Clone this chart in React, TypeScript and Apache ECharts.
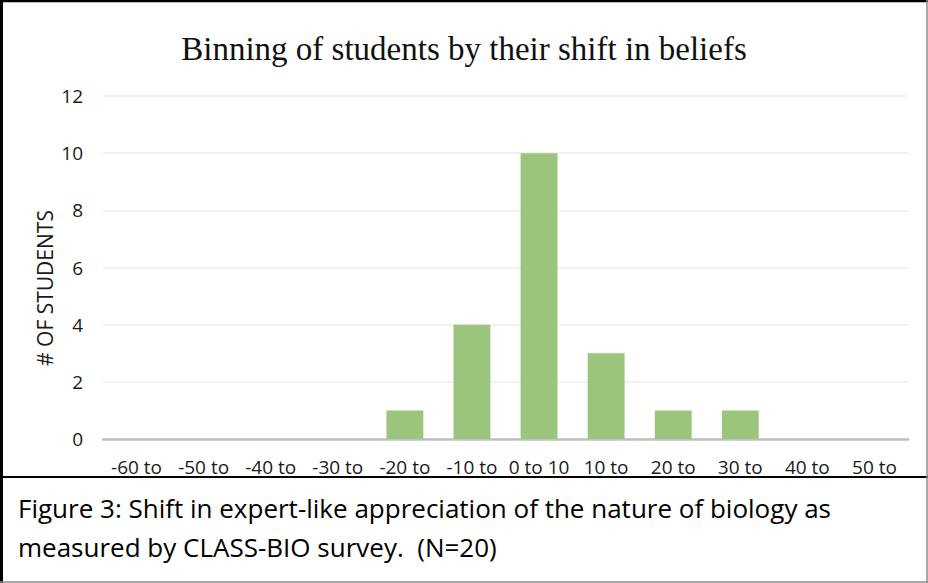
import React, { useEffect, useRef } from "react";
import * as echarts from "echarts";

const categories = [
  "-60 to -50", "-50 to -40", "-40 to -30", "-30 to -20", "-20 to -10", "-10 to 0",
  "0 to 10", "10 to 20", "20 to 30", "30 to 40", "40 to 50", "50 to 60",
];
const students = [0, 0, 0, 0, 1, 4, 10, 3, 1, 1, 0, 0];
const titleText = "Binning of students by their shift in beliefs";
const yAxisName = "# OF STUDENTS";
const captionLines = [
  "Figure 3: Shift in expert-like appreciation of the nature of biology as",
  "measured by CLASS-BIO survey.  (N=20)",
];

const W = 928;
const H = 583;
const LABEL_FONT = "'Open Sans', 'Noto Sans', sans-serif";

export default function App() {
  const ref = useRef<HTMLDivElement>(null);
  useEffect(() => {
    document.body.style.margin = "0";
    const chart = echarts.init(ref.current!, null, { renderer: "svg" });
    const Z = 100;
    chart.setOption({
      animation: false,
      backgroundColor: "#ffffff",
      title: {
        text: titleText,
        left: "center",
        top: 27,
        textStyle: {
          fontFamily: "'Liberation Serif', 'DejaVu Serif', serif",
          fontSize: 33,
          fontWeight: "normal",
          color: "#111",
        },
      },
      grid: { left: 103, right: 20, top: 96, bottom: H - 439, containLabel: false },
      xAxis: {
        type: "category",
        data: categories,
        axisLine: { show: true, lineStyle: { color: "#bfbfbf", width: 2.5 } },
        axisTick: { show: false },
        axisLabel: {
          interval: 0,
          margin: 16,
          fontSize: 19,
          lineHeight: 24,
          fontFamily: LABEL_FONT,
          color: "#1a1a1a",
          // the second line of wrapped labels is hidden by the caption box in the original
          formatter: (v: string) => (v.length > 7 ? v.replace(/ \S+$/, "") : v),
        },
      },
      yAxis: {
        type: "value",
        min: 0,
        max: 12,
        interval: 2,
        axisLine: { show: false },
        axisTick: { show: false },
        splitLine: { lineStyle: { color: "#ececec", width: 1.5 } },
        axisLabel: { margin: 20, fontSize: 19, fontFamily: LABEL_FONT, color: "#1a1a1a" },
      },
      series: [
        {
          type: "bar",
          data: students,
          barCategoryGap: "45%",
          itemStyle: { color: "#9bc57d" },
        },
      ],
      graphic: [
        {
          type: "text",
          x: 45,
          y: 288,
          rotation: Math.PI / 2,
          z: Z,
          style: {
            text: yAxisName,
            fontSize: 21,
            fontFamily: LABEL_FONT,
            fill: "#1a1a1a",
            align: "center",
            verticalAlign: "middle",
          },
        },
        {
          type: "rect",
          z: Z,
          shape: { x: 0, y: 477, width: W, height: H - 477 },
          style: { fill: "#ffffff" },
        },
        {
          type: "line",
          z: Z + 1,
          shape: { x1: 0, y1: 477, x2: W, y2: 477 },
          style: { stroke: "#000", lineWidth: 2 },
        },
        {
          type: "line",
          z: Z + 1,
          shape: { x1: 0, y1: 1, x2: W, y2: 1 },
          style: { stroke: "#000", lineWidth: 2.5 },
        },
        {
          type: "line",
          z: Z + 1,
          shape: { x1: 1.5, y1: 0, x2: 1.5, y2: H },
          style: { stroke: "#000", lineWidth: 3 },
        },
        {
          type: "line",
          z: Z + 1,
          shape: { x1: W - 1, y1: 0, x2: W - 1, y2: H },
          style: { stroke: "#8c8c8c", lineWidth: 1.5 },
        },
        {
          type: "line",
          z: Z + 1,
          shape: { x1: 0, y1: H - 1, x2: W, y2: H - 1 },
          style: { stroke: "#8c8c8c", lineWidth: 1.5 },
        },
        ...captionLines.map((t, i) => ({
          type: "text",
          x: 18,
          y: 508 + i * 39,
          z: Z + 2,
          style: {
            text: t,
            fontSize: 26,
            fontFamily: LABEL_FONT,
            fill: "#000",
            align: "left",
            verticalAlign: "middle",
          },
        })),
      ],
    });
    return () => chart.dispose();
  }, []);
  return <div ref={ref} style={{ width: W, height: H }} />;
}
